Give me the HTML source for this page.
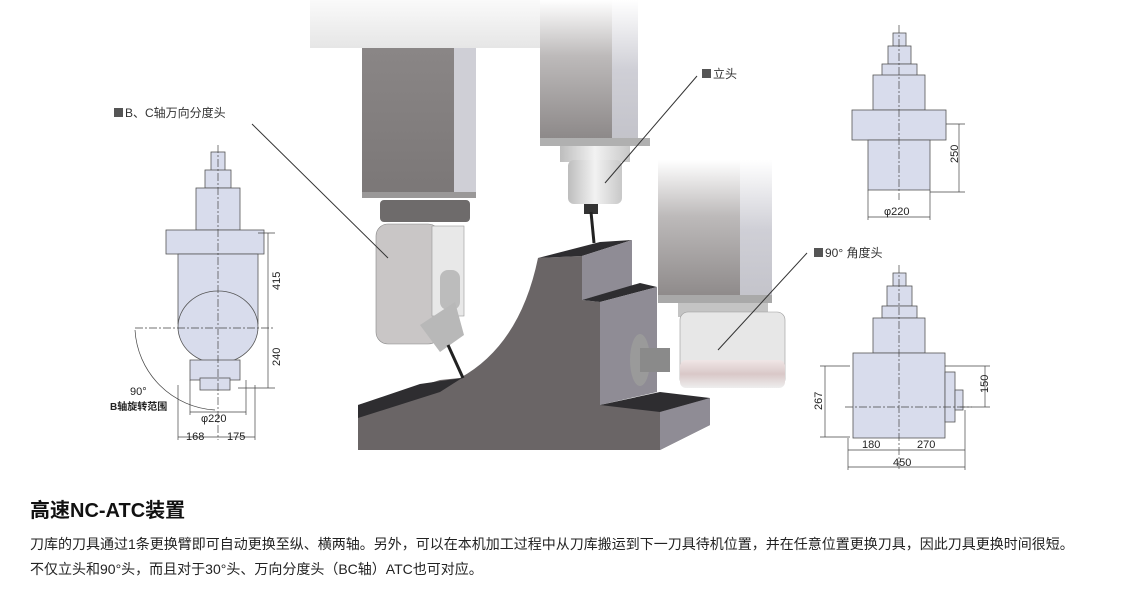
<!DOCTYPE html>
<html><head><meta charset="utf-8"><style>
body{margin:0;width:1123px;height:592px;background:#fff;overflow:hidden;font-family:"Liberation Sans","Noto Sans CJK SC",sans-serif;}
.t{position:absolute;left:30px;top:494px;font-size:20px;font-weight:bold;color:#111;}
.p{position:absolute;left:30px;font-size:14px;color:#222;white-space:nowrap;}
</style></head><body>
<svg width="1123" height="592" style="position:absolute;left:0;top:0" font-family="Liberation Sans, Noto Sans CJK SC, sans-serif">
<defs>
<linearGradient id="colA" x1="0" y1="0" x2="0" y2="1"><stop offset="0" stop-color="#8a8686"/><stop offset="1" stop-color="#7b7777"/></linearGradient>
<linearGradient id="colB" x1="0" y1="0" x2="0" y2="1"><stop offset="0" stop-color="#fff"/><stop offset="0.4" stop-color="#bdbaba"/><stop offset="1" stop-color="#8c8888"/></linearGradient>
<linearGradient id="side" x1="0" y1="0" x2="0" y2="1"><stop offset="0" stop-color="#fff"/><stop offset="0.5" stop-color="#cfcfd6"/><stop offset="1" stop-color="#c3c3ca"/></linearGradient>
<linearGradient id="top" x1="0" y1="0" x2="0" y2="1"><stop offset="0" stop-color="#fafafa"/><stop offset="1" stop-color="#e6e6e6"/></linearGradient>
<linearGradient id="cyl" x1="0" y1="0" x2="1" y2="0"><stop offset="0" stop-color="#bdbdbd"/><stop offset="0.5" stop-color="#f2f2f2"/><stop offset="1" stop-color="#c8c8c8"/></linearGradient>
<linearGradient id="pink" x1="0" y1="0" x2="0" y2="1"><stop offset="0" stop-color="#f0e6e6"/><stop offset="0.5" stop-color="#d9c8c8"/><stop offset="1" stop-color="#eee"/></linearGradient>
</defs>
<!-- workpiece -->
<path d="M358,405 L440,380 L460,378 Q520,345 538,258 L582,256 L582,300 L600,302 L600,405 L660,398 L710,398 L710,425 L660,450 L358,450 Z" fill="#6a6566"/>
<path d="M358,405 L420,384 L462,378 L440,392 L358,418 Z" fill="#2e2d30"/>
<polygon points="538,258 600,242 632,240 582,256" fill="#2e2d30"/>
<polygon points="582,256 632,240 632,286 582,300" fill="#8f8c95"/>
<polygon points="582,300 640,283 657,287 600,302" fill="#2e2d30"/>
<polygon points="600,302 657,287 657,392 600,405" fill="#8f8c95"/>
<polygon points="600,405 660,392 710,398 660,412" fill="#2e2d30"/>
<polygon points="660,412 710,398 710,425 660,450" fill="#8f8c95"/>
<!-- left column -->
<rect x="310" y="0" width="230" height="48" fill="url(#top)"/>
<rect x="362" y="48" width="92" height="147" fill="url(#colA)"/>
<rect x="454" y="48" width="22" height="147" fill="#cfcfd6"/>
<rect x="362" y="192" width="114" height="6" fill="#9a9898"/>
<rect x="380" y="200" width="90" height="22" rx="4" fill="#6e6b6b"/>
<rect x="376" y="224" width="64" height="120" rx="12" fill="#c9c6c6" stroke="#888" stroke-width="0.6"/>
<rect x="432" y="226" width="32" height="90" fill="#e8e8e8" stroke="#999" stroke-width="0.6"/>
<rect x="440" y="270" width="20" height="40" rx="8" fill="#bcbcbc"/>
<polygon points="420,325 455,302 464,335 440,352" fill="#b8b8b8"/>
<line x1="448" y1="345" x2="463" y2="378" stroke="#222" stroke-width="3"/>
<!-- middle column -->
<rect x="540" y="0" width="74" height="140" fill="url(#colB)"/>
<rect x="612" y="0" width="26" height="140" fill="url(#side)"/>
<rect x="540" y="138" width="110" height="8" fill="#b0b0b0"/>
<rect x="560" y="146" width="70" height="16" fill="url(#cyl)"/>
<rect x="568" y="160" width="54" height="44" rx="6" fill="url(#cyl)"/>
<rect x="584" y="204" width="14" height="10" fill="#333"/>
<line x1="591" y1="212" x2="594" y2="243" stroke="#222" stroke-width="3"/>
<!-- right column -->
<rect x="658" y="160" width="82" height="140" fill="url(#colB)"/>
<rect x="740" y="160" width="32" height="140" fill="url(#side)"/>
<rect x="658" y="295" width="114" height="8" fill="#a9a9a9"/>
<rect x="678" y="303" width="90" height="14" fill="#c4c4c4"/>
<rect x="680" y="312" width="105" height="75" rx="8" fill="#e7e7e7" stroke="#999" stroke-width="0.6"/>
<rect x="680" y="360" width="105" height="28" rx="6" fill="url(#pink)"/>
<ellipse cx="640" cy="360" rx="10" ry="26" fill="#9a9a9a"/>
<rect x="640" y="348" width="30" height="24" fill="#8a8a8a"/>
<!-- leader lines -->
<g stroke="#333" stroke-width="1" fill="none">
<line x1="252" y1="124" x2="388" y2="258"/>
<line x1="697" y1="76" x2="605" y2="183"/>
<line x1="807" y1="253" x2="718" y2="350"/>
</g>
<g font-size="12" fill="#333">
<rect x="114" y="108" width="9" height="9" fill="#555"/><text x="125" y="117">B、C轴万向分度头</text>
<rect x="702" y="69" width="9" height="9" fill="#555"/><text x="713" y="78">立头</text>
<rect x="814" y="248" width="9" height="9" fill="#555"/><text x="825" y="257">90° 角度头</text>
</g>
<!-- left drawing -->
<g fill="#d8dcec" stroke="#555" stroke-width="0.8">
<rect x="211" y="152" width="14" height="20"/>
<rect x="205" y="170" width="26" height="18"/>
<rect x="196" y="188" width="44" height="42"/>
<rect x="166" y="230" width="98" height="24"/>
<rect x="178" y="254" width="80" height="70"/>
<ellipse cx="218" cy="327" rx="40" ry="36"/>
<rect x="190" y="360" width="50" height="20"/>
<rect x="200" y="378" width="30" height="12"/>
</g>
<g stroke="#444" stroke-width="0.7" fill="none">
<line x1="218" y1="145" x2="218" y2="440" stroke-dasharray="8,2,2,2"/>
<line x1="135" y1="328" x2="275" y2="328" stroke-dasharray="8,2,2,2"/>
<line x1="268" y1="233" x2="268" y2="388"/>
<line x1="258" y1="233" x2="275" y2="233"/><line x1="238" y1="388" x2="275" y2="388"/>
<line x1="190" y1="412" x2="246" y2="412"/>
<line x1="178" y1="437" x2="255" y2="437"/>
<line x1="178" y1="385" x2="178" y2="440"/><line x1="255" y1="385" x2="255" y2="440"/>
<line x1="190" y1="380" x2="190" y2="415"/><line x1="246" y1="380" x2="246" y2="415"/>
<path d="M135,330 A85,85 0 0 0 215,410"/>
</g>
<g font-size="11" fill="#222">
<text x="280" y="290" transform="rotate(-90 280 290)">415</text>
<text x="280" y="366" transform="rotate(-90 280 366)">240</text>
<text x="201" y="422">φ220</text>
<text x="186" y="440">168</text><text x="227" y="440">175</text>
<text x="130" y="395">90°</text>
<text x="110" y="410" font-weight="bold" font-size="10">B轴旋转范围</text>
</g>
<!-- top right drawing -->
<g fill="#d8dcec" stroke="#555" stroke-width="0.8">
<rect x="893" y="33" width="13" height="13"/>
<rect x="888" y="46" width="23" height="18"/>
<rect x="882" y="64" width="35" height="15"/>
<rect x="873" y="75" width="52" height="35"/>
<rect x="852" y="110" width="94" height="30"/>
<rect x="868" y="140" width="62" height="50"/>
</g>
<g stroke="#444" stroke-width="0.7" fill="none">
<line x1="899" y1="25" x2="899" y2="200" stroke-dasharray="8,2,2,2"/>
<line x1="946" y1="124" x2="965" y2="124"/><line x1="930" y1="192" x2="965" y2="192"/>
<line x1="959" y1="124" x2="959" y2="192"/>
<line x1="868" y1="190" x2="868" y2="220"/><line x1="930" y1="190" x2="930" y2="220"/>
<line x1="868" y1="217" x2="930" y2="217"/>
</g>
<g font-size="11" fill="#222">
<text x="958" y="163" transform="rotate(-90 958 163)">250</text>
<text x="884" y="215">φ220</text>
</g>
<!-- bottom right drawing -->
<g fill="#d8dcec" stroke="#555" stroke-width="0.8">
<rect x="893" y="273" width="13" height="13"/>
<rect x="887" y="286" width="25" height="20"/>
<rect x="882" y="306" width="35" height="12"/>
<rect x="873" y="318" width="52" height="35"/>
<rect x="853" y="353" width="92" height="85"/>
<rect x="945" y="372" width="10" height="50"/>
<rect x="955" y="390" width="8" height="20"/>
</g>
<g stroke="#444" stroke-width="0.7" fill="none">
<line x1="899" y1="265" x2="899" y2="470" stroke-dasharray="8,2,2,2"/>
<line x1="845" y1="407" x2="972" y2="407" stroke-dasharray="8,2,2,2"/>
<line x1="820" y1="366" x2="850" y2="366"/><line x1="820" y1="437" x2="850" y2="437"/>
<line x1="825" y1="366" x2="825" y2="437"/>
<line x1="945" y1="366" x2="990" y2="366"/><line x1="960" y1="407" x2="990" y2="407"/>
<line x1="985" y1="366" x2="985" y2="407"/>
<line x1="848" y1="438" x2="848" y2="470"/><line x1="965" y1="410" x2="965" y2="470"/>
<line x1="848" y1="450" x2="965" y2="450"/>
<line x1="848" y1="467" x2="965" y2="467"/>
</g>
<g font-size="11" fill="#222">
<text x="822" y="410" transform="rotate(-90 822 410)">267</text>
<text x="988" y="393" transform="rotate(-90 988 393)">150</text>
<text x="862" y="448">180</text><text x="917" y="448">270</text>
<text x="893" y="466">450</text>
</g>
</svg>
<div class="t">高速NC-ATC装置</div>
<div class="p" style="top:534px">刀库的刀具通过1条更换臂即可自动更换至纵、横两轴。另外，可以在本机加工过程中从刀库搬运到下一刀具待机位置，并在任意位置更换刀具，因此刀具更换时间很短。</div>
<div class="p" style="top:559px">不仅立头和90°头，而且对于30°头、万向分度头（BC轴）ATC也可对应。</div>
</body></html>
